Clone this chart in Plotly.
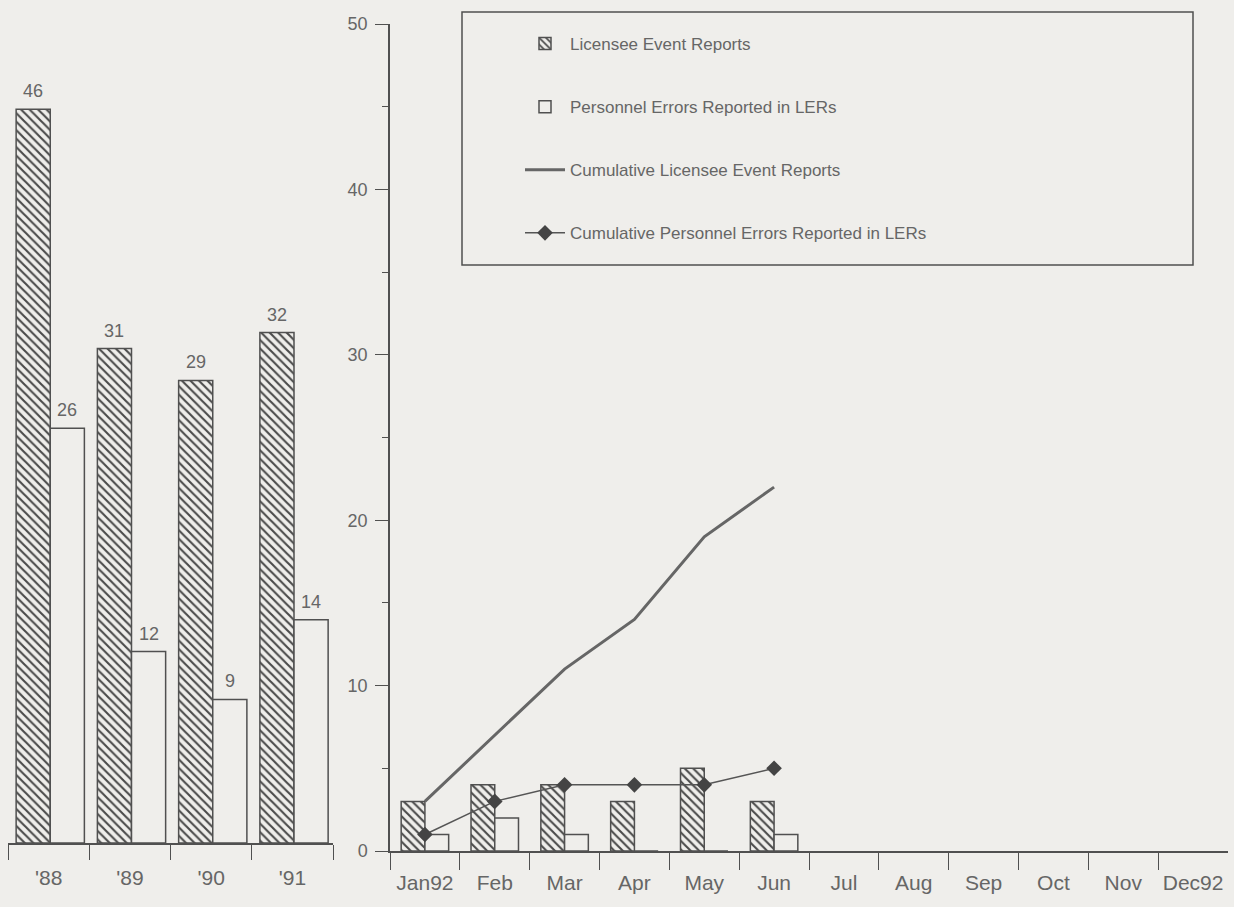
import plotly.graph_objects as go

# ---- data ----
years = ["'88", "'89", "'90", "'91"]
ler_yearly = [46, 31, 29, 32]
pe_yearly = [26, 12, 9, 14]

months = ["Jan92", "Feb", "Mar", "Apr", "May", "Jun", "Jul", "Aug", "Sep", "Oct", "Nov", "Dec92"]
ler_monthly = [3, 4, 4, 3, 5, 3]
pe_monthly = [1, 2, 1, 0, 0, 1]
cum_ler = [3, 7, 11, 14, 19, 22]
cum_pe = [1, 3, 4, 4, 4, 5]

W, H = 1234, 907
BG = "#efeeeb"
INK = "#505050"
TXT = "#666666"
FONT = "Liberation Sans, Arial, sans-serif"

def px(x):
    return x / W

def py(y):
    return 1 - y / H

hatch = dict(shape="\\", fgcolor="#4a4a4a", bgcolor=BG, size=6, solidity=0.35)

fig = go.Figure()

# left chart (yearly)
W_L, OFF_H, OFF_O = 0.42, -0.40, 0.02
fig.add_trace(go.Bar(
    x=years, y=ler_yearly, xaxis="x", yaxis="y", width=W_L, offset=OFF_H,
    marker=dict(color=BG, pattern=hatch, line=dict(color=INK, width=1.5)),
    showlegend=False, hoverinfo="x+y"))
fig.add_trace(go.Bar(
    x=years, y=pe_yearly, xaxis="x", yaxis="y", width=W_L, offset=OFF_O,
    marker=dict(color=BG, line=dict(color=INK, width=1.5)),
    showlegend=False, hoverinfo="x+y"))

label_font = dict(size=18, color=TXT, family=FONT)
annotations = []
for i, (a, b) in enumerate(zip(ler_yearly, pe_yearly)):
    annotations.append(dict(x=i + OFF_H + W_L / 2, y=a, xref="x", yref="y", text=str(a),
                            showarrow=False, yanchor="bottom", yshift=6, font=label_font))
    annotations.append(dict(x=i + OFF_O + W_L / 2, y=b, xref="x", yref="y", text=str(b),
                            showarrow=False, yanchor="bottom", yshift=6, font=label_font))

# right chart (monthly)
fig.add_trace(go.Bar(
    x=months[:len(ler_monthly)], y=ler_monthly, xaxis="x2", yaxis="y2", width=0.34, offset=-0.34,
    marker=dict(color=BG, pattern=hatch, line=dict(color=INK, width=1.5)),
    name="Licensee Event Reports", legendgroup="a"))
fig.add_trace(go.Bar(
    x=months[:len(pe_monthly)], y=pe_monthly, xaxis="x2", yaxis="y2", width=0.34, offset=0.0,
    marker=dict(color=BG, line=dict(color=INK, width=1.5)),
    name="Personnel Errors Reported in LERs", legendgroup="b"))
fig.add_trace(go.Scatter(
    x=months[:len(cum_ler)], y=cum_ler, xaxis="x2", yaxis="y2", mode="lines",
    line=dict(color="#666666", width=3),
    name="Cumulative Licensee Event Reports", legendgroup="c"))
fig.add_trace(go.Scatter(
    x=months[:len(cum_pe)], y=cum_pe, xaxis="x2", yaxis="y2", mode="lines+markers",
    line=dict(color="#555555", width=1.5),
    marker=dict(symbol="diamond", size=12, color="#444444"),
    name="Cumulative Personnel Errors Reported in LERs", legendgroup="d"))

xfont = dict(size=21, color=TXT, family=FONT)
yfont = dict(size=18, color=TXT, family=FONT)

fig.update_layout(
    template="none",
    width=W, height=H, autosize=False,
    margin=dict(l=0, r=0, t=0, b=0, pad=0, autoexpand=False),
    paper_bgcolor=BG, plot_bgcolor=BG,
    barmode="overlay",
    font=dict(family=FONT, color=TXT),
    xaxis=dict(domain=[px(8), px(333)], anchor="y", type="category", automargin=False,
               categoryorder="array", categoryarray=years, range=[-0.5, 3.5],
               tickson="boundaries", ticks="outside", ticklen=15, tickwidth=1.2, tickcolor=INK,
               showline=True, linecolor=INK, linewidth=1.5, showgrid=False,
               tickfont=xfont, zeroline=False, ticklabelstandoff=15),
    yaxis=dict(domain=[py(843), py(45.5)], anchor="x", range=[0, 50], visible=False,
               automargin=False),
    xaxis2=dict(domain=[px(390), px(1228)], anchor="y2", type="category", automargin=False,
                categoryorder="array", categoryarray=months, range=[-0.5, 11.5],
                tickson="boundaries", ticks="outside", ticklen=17, tickwidth=1.2, tickcolor=INK,
                showline=True, linecolor=INK, linewidth=1.5, showgrid=False,
                tickfont=xfont, zeroline=False, ticklabelstandoff=12),
    yaxis2=dict(domain=[py(851), py(24)], anchor="x2", range=[0, 50], automargin=False,
                tickvals=[0, 10, 20, 30, 40, 50], ticks="outside", ticklen=13, tickwidth=1.2,
                tickcolor=INK, showline=True, linecolor=INK, linewidth=1.5, showgrid=False,
                zeroline=False, tickfont=yfont, ticklabelstandoff=4,
                minor=dict(tickvals=[5, 15, 25, 35, 45], ticks="outside", ticklen=6,
                           tickcolor=INK, showgrid=False)),
    legend=dict(x=px(520), y=py(26), xanchor="left", yanchor="top",
                bgcolor="rgba(0,0,0,0)", borderwidth=0, tracegroupgap=38,
                font=dict(size=17, color=TXT, family=FONT), itemwidth=40),
    shapes=[dict(type="rect", xref="paper", yref="paper",
                 x0=px(462), x1=px(1193), y0=py(265), y1=py(12),
                 line=dict(color=INK, width=1.5), fillcolor="rgba(0,0,0,0)")],
    annotations=annotations,
)

fig.write_html("out.html", config={"displayModeBar": False},
               post_script="document.body.style.margin='0px';document.body.style.overflow='hidden';")
